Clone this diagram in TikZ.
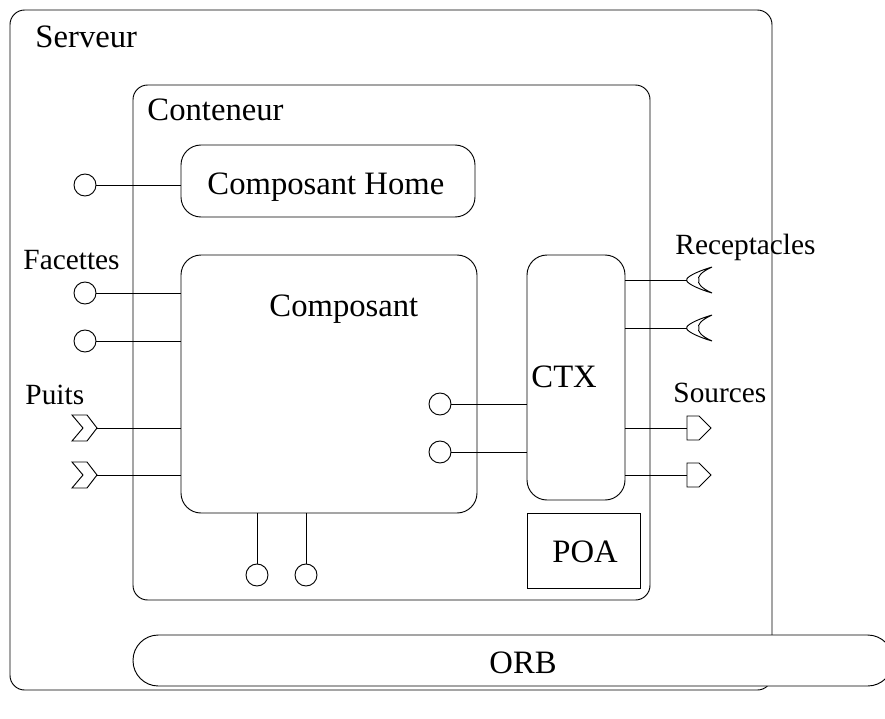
\documentclass[tikz,border=0pt]{standalone}
\usepackage{fontspec}
\setmainfont{Liberation Serif}
\begin{document}
\begin{tikzpicture}[x=0.75pt,y=-0.75pt,line width=0.7pt,
  big/.style={font=\fontsize{24.5}{28}\selectfont,inner sep=0pt,anchor=base west},
  small/.style={font=\fontsize{22}{26}\selectfont,inner sep=0pt,anchor=base west},
  rbox/.style={draw,rectangle,rounded corners=#1,inner sep=0pt},
  port/.style={draw,circle,minimum size=16.5pt,inner sep=0pt},
  sinkshape/.pic={\draw (-25,-13) -- (-10,-13) -- (0,0) -- (-10,13) -- (-25,13) -- (-14,0) -- cycle;},
  srcshape/.pic={\draw (0,-12) -- (12,-12) -- (24,0) -- (12,12) -- (0,12) -- cycle;},
  recshape/.pic={\draw (25,-13) .. controls (8,-8) and (-2,-2) .. (0,0) .. controls (-2,2) and (8,8) .. (25,13)
                 .. controls (14,8) and (10,3) .. (12,0) .. controls (10,-3) and (14,-8) .. (25,-13) -- cycle;}
]
\useasboundingbox (0,0) rectangle (885,718);
% server
\node[rbox=11pt,minimum width=571.5pt,minimum height=510pt] (server) at (391,350) {};
\node[big] (serverlbl) at (35,47) {Serveur};
% container
\node[rbox=11pt,minimum width=387.75pt,minimum height=386.25pt] (cont) at (391.5,342.5) {};
\node[big] (contlbl) at (147,120) {Conteneur};
% home
\node[rbox=15pt,minimum width=220.5pt,minimum height=54pt] (home) at (328,181) {};
\node[big] (homelbl) at (207,194) {Composant Home};
% composant
\node[rbox=15pt,minimum width=222pt,minimum height=193.5pt] (comp) at (329,384) {};
\node[big] (complbl) at (269,316) {Composant};
% CTX
\node[rbox=15pt,minimum width=73.5pt,minimum height=183.75pt] (ctx) at (576,377.5) {};
\node[big] (ctxlbl) at (531,387) {CTX};
% POA
\node[draw,rectangle,minimum width=84.75pt,minimum height=56.25pt,inner sep=0pt] (poa) at (583.5,550.5) {};
\node[big] (poalbl) at (552,562) {POA};
% ORB
\node[rbox=19pt,fill=white,minimum width=570pt,minimum height=38.25pt] (orb) at (513,660.5) {};
\node[big] (orblbl) at (489,673) {ORB};

% home port
\node[port] (hp) at (85,185) {};
\draw (hp.east) -- (hp.east -| home.west);
% facettes
\node[small] (faclbl) at (23,269) {Facettes};
\node[port] (f1) at (85,293) {};
\node[port] (f2) at (85,341) {};
\draw (f1.east) -- (f1.east -| comp.west);
\draw (f2.east) -- (f2.east -| comp.west);
% puits
\node[small] (puitslbl) at (25,404) {Puits};
\coordinate (p1) at (97,428);
\coordinate (p2) at (97,475);
\draw (p1) -- (p1 -| comp.west);
\draw (p2) -- (p2 -| comp.west);
\pic at (p1) {sinkshape};
\pic at (p2) {sinkshape};
% internal ports
\node[port] (i1) at (440,404) {};
\node[port] (i2) at (440,452) {};
\draw (i1.east) -- (i1.east -| ctx.west);
\draw (i2.east) -- (i2.east -| ctx.west);
% bottom ports
\node[port] (b1) at (257,575) {};
\node[port] (b2) at (306,575) {};
\draw (b1.north) -- (b1.north |- comp.south);
\draw (b2.north) -- (b2.north |- comp.south);
% receptacles
\node[small] (reclbl) at (675,254) {Receptacles};
\coordinate (r1) at (687,280);
\coordinate (r2) at (687,328);
\draw (r1 -| ctx.east) -- (r1);
\draw (r2 -| ctx.east) -- (r2);
\pic at (r1) {recshape};
\pic at (r2) {recshape};
% sources
\node[small] (srclbl) at (673,402) {Sources};
\coordinate (s1) at (687,428);
\coordinate (s2) at (687,475);
\draw (s1 -| ctx.east) -- (s1);
\draw (s2 -| ctx.east) -- (s2);
\pic at (s1) {srcshape};
\pic at (s2) {srcshape};
\end{tikzpicture}
\end{document}
